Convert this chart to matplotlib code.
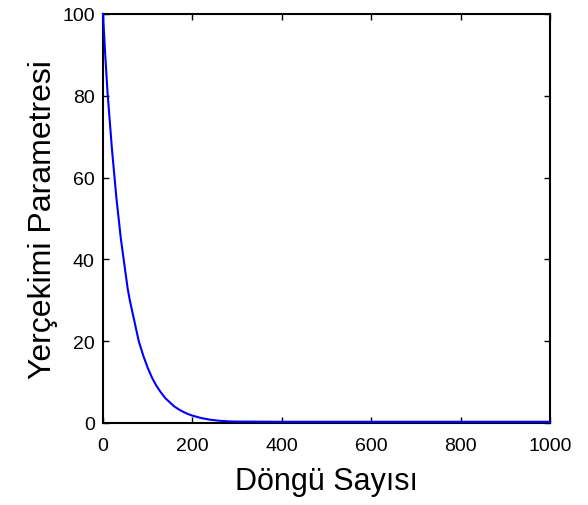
import numpy as np
import matplotlib.pyplot as plt

plt.rcParams['font.family'] = ['Liberation Sans', 'DejaVu Sans']

# values
iterasyon = [0, 5, 10, 15, 20, 25, 30, 35, 40, 45, 50, 55, 60, 70, 80, 90,
             100, 110, 120, 130, 140, 150, 160, 170, 180, 190, 200, 220, 240,
             260, 280, 300, 400, 600, 800, 1000]
G = [100, 90, 81, 74, 67, 61, 55, 50, 45, 41, 37, 33, 30, 25, 20, 16.5,
     13.5, 11, 9, 7.4, 6, 5, 4, 3.3, 2.7, 2.2, 1.8, 1.2, 0.8,
     0.55, 0.4, 0.35, 0.3, 0.3, 0.3, 0.3]

xticks = [0, 200, 400, 600, 800, 1000]
yticks = [0, 20, 40, 60, 80, 100]

fig = plt.figure(figsize=(5.88, 5.06), dpi=100)
ax = fig.add_axes([103/588, 1 - 424/506, (550-103)/588, (424-15)/506])

ax.plot(iterasyon, G, color='#0000ff', linewidth=1.5, zorder=3, clip_on=False)

ax.set_xlim(0, 1000)
ax.set_ylim(0, 100)
ax.set_xticks(xticks)
ax.set_yticks(yticks)
ax.tick_params(direction='in', top=True, right=True, length=4, width=1,
               labelsize=14)
ax.tick_params(axis='x', pad=10)
ax.tick_params(axis='y', pad=6)
for s in ax.spines.values():
    s.set_linewidth(1.5)

ax.set_xlabel("Döngü Sayısı", fontsize=22, labelpad=9)
ax.set_ylabel("Yerçekimi Parametresi", fontsize=23, labelpad=3)

# the reference image is cut off at the right edge
fig.patches.append(plt.Rectangle((571/588, 0), 17/588, 1, transform=fig.transFigure,
                                 color='white', zorder=10))

fig.savefig('out.png', dpi=100)
